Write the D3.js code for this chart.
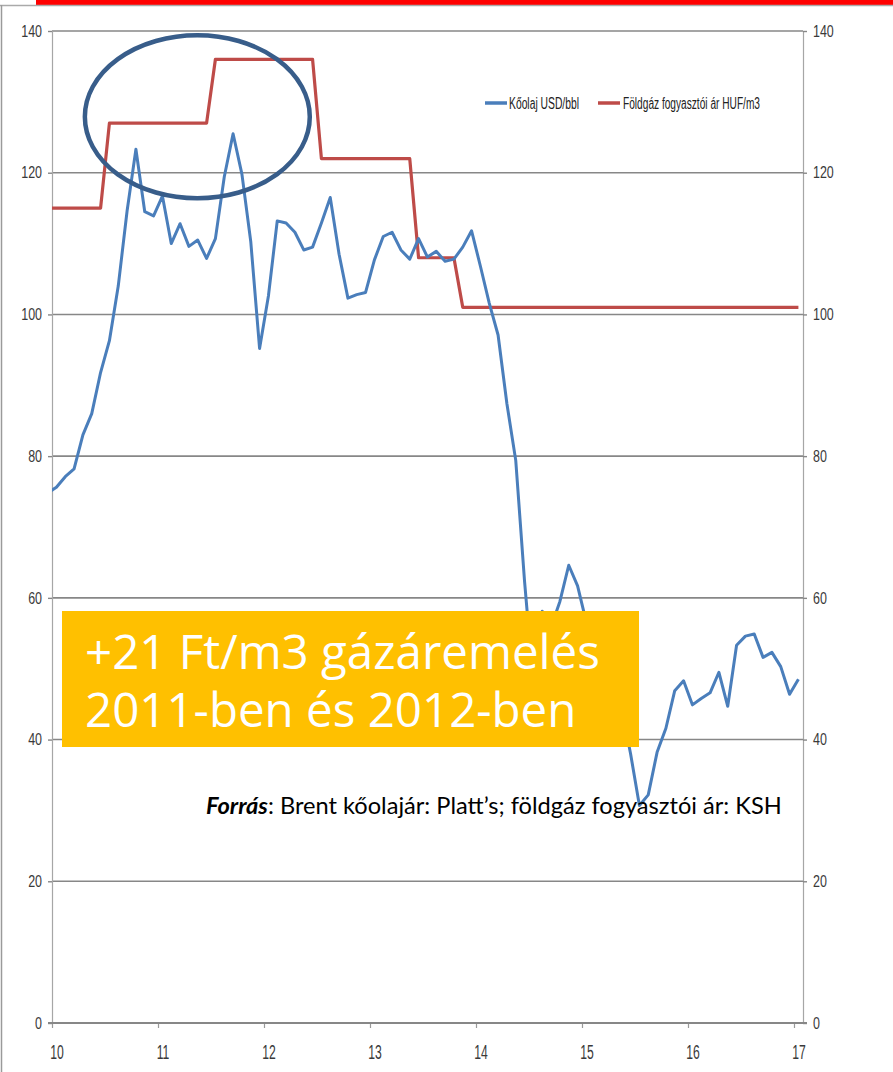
<!DOCTYPE html>
<html><head><meta charset="utf-8">
<script src="https://cdn.jsdelivr.net/npm/d3@7"></script>
<style>
html,body{margin:0;padding:0;background:#fff;}
svg{display:block;}
</style></head>
<body>
<svg id="chart" width="893" height="1072"></svg>
<script>
// ---------- DATA ----------
// monthly points, first = 2010 June, last = 2017 July
const firstMonth = {year: 2010, month: 6};
const oil = [
  74.8, 75.6, 77.1, 78.2, 83.0, 86.0, 91.8,
  96.3, 104.0, 114.6, 123.3, 114.5, 113.9, 116.7, 110.0, 112.8, 109.6, 110.5, 107.9,
  110.7, 119.4, 125.5, 119.8, 110.3, 95.2, 102.6, 113.2, 112.9, 111.6, 109.1, 109.5,
  112.9, 116.5, 108.5, 102.3, 102.8, 103.1, 107.7, 111.0, 111.6, 109.1, 107.8, 110.7,
  108.1, 108.9, 107.5, 107.8, 109.5, 111.8, 106.8, 101.6, 97.1, 87.4, 79.4, 62.3,
  47.8, 58.1, 55.9, 59.5, 64.6, 61.7, 56.5, 46.5, 47.6, 48.4, 44.3, 38.0,
  30.7, 32.2, 38.2, 41.6, 46.9, 48.3, 44.9, 45.8, 46.6, 49.5, 44.7, 53.3,
  54.6, 54.9, 51.6, 52.3, 50.3, 46.4, 48.5
];
const gas = [
  115, 115, 115, 115, 115, 115, 115,
  127, 127, 127, 127, 127, 127, 127, 127, 127, 127, 127, 127,
  136, 136, 136, 136, 136, 136, 136, 136, 136, 136, 136, 136,
  122, 122, 122, 122, 122, 122, 122, 122, 122, 122, 122, 108,
  108, 108, 108, 108, 101, 101, 101, 101, 101, 101, 101, 101,
  101, 101, 101, 101, 101, 101, 101, 101, 101, 101, 101, 101,
  101, 101, 101, 101, 101, 101, 101, 101, 101, 101, 101, 101,
  101, 101, 101, 101, 101, 101, 101
];
const xTicks = [10, 11, 12, 13, 14, 15, 16, 17];
const xTickLabels = ["10", "11", "12", "13", "14", "15", "16", "17"];
const yTicks = [0, 20, 40, 60, 80, 100, 120, 140];
const seriesNames = ["Kőolaj USD/bbl", "Földgáz fogyasztói ár HUF/m3"];
const seriesColors = ["#4A7EBB", "#BE4B48"];
const boxLines = ["+21 Ft/m3 gázáremelés", "2011-ben és 2012-ben"];
const sourceBold = "Forrás";
const sourceRest = ": Brent kőolajár: Platt’s; földgáz fogyasztói ár: KSH";
// annotation ellipse in data units (axis year, value)
const ellipseData = {cx: 11.371, cy: 127.9, rx: 1.061, ry: 11.5};

// ---------- LAYOUT ----------
const W = 893, H = 1072;
const plot = {left: 52, right: 803, top: 31, bottom: 1023};
const svg = d3.select("#chart");

const x = d3.scaleLinear().domain([10, 17.085]).range([plot.left, plot.right]);
const y = d3.scaleLinear().domain([0, 140]).range([plot.bottom, plot.top]);
// month index -> axis position (axis label k sits mid-year)
const monthPos = i => 10 + (i - 0.5) / 12 + (firstMonth.month - 6) / 12 + (firstMonth.year - 2010);

// frame decorations
svg.append("rect").attr("x", 0).attr("y", 0).attr("width", W).attr("height", H).attr("fill", "#fff");
svg.append("rect").attr("x", 36).attr("y", 0).attr("width", W - 36).attr("height", 5).attr("fill", "#FF0000");
svg.append("line").attr("x1", 0).attr("x2", W).attr("y1", 5.5).attr("y2", 5.5).attr("stroke", "#aaaaaa").attr("stroke-width", 1.5);
svg.append("line").attr("x1", 1.5).attr("x2", 1.5).attr("y1", 5).attr("y2", H).attr("stroke", "#9a9a9a").attr("stroke-width", 1.5);

// gridlines
svg.append("g").selectAll("line").data(yTicks.filter(d => d > 0)).join("line")
  .attr("x1", plot.left).attr("x2", plot.right)
  .attr("y1", d => y(d)).attr("y2", d => y(d))
  .attr("stroke", "#878787").attr("stroke-width", 1.6);

// y axes (left & right)
const axisStyle = g => {
  g.select(".domain").attr("stroke", "#a6a6a6").attr("stroke-width", 1.2);
  g.selectAll(".tick line").attr("stroke", "#878787").attr("stroke-width", 1.4);
  g.selectAll(".tick text").remove();
};
svg.append("g").attr("transform", `translate(${plot.left},0)`)
  .call(d3.axisLeft(y).tickValues(yTicks).tickSizeOuter(0).tickSize(4)).call(axisStyle);
svg.append("g").attr("transform", `translate(${plot.right},0)`)
  .call(d3.axisRight(y).tickValues(yTicks).tickSizeOuter(0).tickSize(4)).call(axisStyle);

const labelFont = "'Liberation Sans Narrow','Arial Narrow','Liberation Sans',sans-serif";
svg.append("g").selectAll("text").data(yTicks).join("text")
  .attr("transform", d => `translate(42,${y(d)}) scale(0.78,1)`)
  .attr("text-anchor", "end").attr("dy", "0.36em")
  .attr("font-family", labelFont).attr("font-size", 16).attr("fill", "#3a3a3a")
  .text(d => d);
svg.append("g").selectAll("text").data(yTicks).join("text")
  .attr("transform", d => `translate(813,${y(d)}) scale(0.78,1)`)
  .attr("text-anchor", "start").attr("dy", "0.36em")
  .attr("font-family", labelFont).attr("font-size", 16).attr("fill", "#3a3a3a")
  .text(d => d);

// x axis
const xg = svg.append("g").attr("transform", `translate(0,${plot.bottom})`)
  .call(d3.axisBottom(x).tickValues(xTicks).tickSizeOuter(0).tickSize(5));
xg.select(".domain").remove();
xg.selectAll(".tick line").attr("stroke", "#9a9a9a").attr("stroke-width", 1.2);
xg.selectAll(".tick text").remove();
svg.append("line").attr("x1", plot.left - 4).attr("x2", plot.right + 4)
  .attr("y1", plot.bottom).attr("y2", plot.bottom)
  .attr("stroke", "#878787").attr("stroke-width", 2);
svg.append("g").selectAll("text").data(xTicks).join("text")
  .attr("transform", (d, i) => `translate(${x(d) + 5},1051) scale(0.58,1)`)
  .attr("text-anchor", "middle").attr("dy", "0.36em")
  .attr("font-family", labelFont).attr("font-size", 21).attr("fill", "#3a3a3a")
  .text((d, i) => xTickLabels[i]);

// clip for lines
svg.append("clipPath").attr("id", "plotclip").append("rect")
  .attr("x", plot.left).attr("y", 0).attr("width", plot.right - plot.left).attr("height", plot.bottom);

const line = d3.line().x((d, i) => x(monthPos(i))).y(d => y(d));
const lines = svg.append("g").attr("clip-path", "url(#plotclip)");
lines.append("path").datum(gas).attr("d", line).attr("fill", "none")
  .attr("stroke", seriesColors[1]).attr("stroke-width", 3.2).attr("stroke-linejoin", "round");
lines.append("path").datum(oil).attr("d", line).attr("fill", "none")
  .attr("stroke", seriesColors[0]).attr("stroke-width", 3).attr("stroke-linejoin", "round");

// legend
const legendItems = [
  {lx: 485, tx: 509, len: 70},
  {lx: 598, tx: 623, len: 137}
];
legendItems.forEach((it, i) => {
  svg.append("line").attr("x1", it.lx).attr("x2", it.lx + 22).attr("y1", 103).attr("y2", 103)
    .attr("stroke", seriesColors[i]).attr("stroke-width", 3.5);
  svg.append("text").attr("x", it.tx).attr("y", 109)
    .attr("font-family", labelFont).attr("font-size", 16).attr("fill", "#222")
    .attr("textLength", it.len).attr("lengthAdjust", "spacingAndGlyphs")
    .text(seriesNames[i]);
});

// ellipse annotation
svg.append("ellipse")
  .attr("cx", x(ellipseData.cx)).attr("cy", y(ellipseData.cy))
  .attr("rx", x(ellipseData.cx + ellipseData.rx) - x(ellipseData.cx))
  .attr("ry", y(ellipseData.cy - ellipseData.ry) - y(ellipseData.cy))
  .attr("fill", "none").attr("stroke", "#385D8A").attr("stroke-width", 4.5);

// orange box with two-line text (single text element)
svg.append("rect").attr("x", 62).attr("y", 611).attr("width", 577).attr("height", 136).attr("fill", "#FFC000");
const boxText = svg.append("text")
  .attr("font-family", "'Open Sans','Noto Sans',sans-serif").attr("font-size", 46)
  .attr("fill", "#fff");
const bt1 = boxText.append("tspan").attr("x", 85).attr("y", 669).text(boxLines[0]);
boxText.append("tspan").attr("x", 85).attr("y", 727).text(boxLines[1]);
const w1 = bt1.node().getComputedTextLength();
if (w1 > 0) boxText.attr("font-size", 46 * 515 / w1);

// source text
const src = svg.append("text").attr("x", 206).attr("y", 814)
  .attr("font-family", "Lato,'Open Sans',sans-serif").attr("font-size", 20).attr("fill", "#000");
src.append("tspan").attr("font-weight", "bold").attr("font-style", "italic").text(sourceBold);
src.append("tspan").text(sourceRest);
const sw = src.node().getComputedTextLength();
if (sw > 0) src.attr("font-size", 20 * 576 / sw);
</script>
</body></html>
